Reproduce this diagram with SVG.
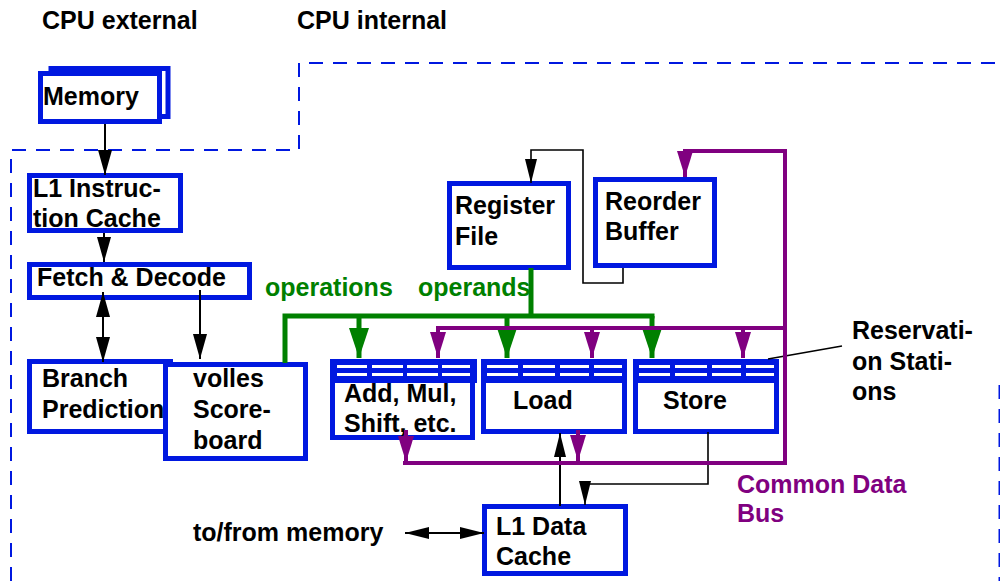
<svg xmlns="http://www.w3.org/2000/svg" width="1000" height="581" viewBox="0 0 1000 581">
<style>
.t{font-family:"Liberation Sans",Arial,sans-serif;font-weight:bold;font-size:25px;fill:#000}
.g{fill:#008000}
.p{fill:#800080}
.box{fill:#fff;stroke:#0018e0;stroke-width:5}
.hdr{fill:#0018e0}
.st{fill:#fff}
.blk{fill:none;stroke:#000;stroke-width:2}
.thin{fill:none;stroke:#000;stroke-width:1.6}
.grn{fill:none;stroke:#008000;stroke-width:5}
.pur{fill:none;stroke:#800080;stroke-width:4}
.dash{fill:none;stroke:#0018e0;stroke-width:2;stroke-dasharray:14 10}
</style>
<defs>
<marker id="ab" markerUnits="userSpaceOnUse" markerWidth="25" markerHeight="14" refX="25" refY="7" orient="auto-start-reverse"><path d="M0,0 L25,7 L0,14 z" fill="#000"/></marker>
<marker id="as" markerUnits="userSpaceOnUse" markerWidth="24" markerHeight="12" refX="24" refY="6" orient="auto-start-reverse"><path d="M0,0 L24,6 L0,12 z" fill="#000"/></marker>
<marker id="ag" markerUnits="userSpaceOnUse" markerWidth="30" markerHeight="20" refX="30" refY="10" orient="auto"><path d="M0,0 L30,10 L0,20 z" fill="#008000"/></marker>
<marker id="ap" markerUnits="userSpaceOnUse" markerWidth="26" markerHeight="16" refX="26" refY="8" orient="auto"><path d="M0,0 L26,8 L0,16 z" fill="#800080"/></marker>
</defs>
<rect width="1000" height="581" fill="#fff"/>

<g id="boundary">
<path class="dash" d="M11,581 V150 H299 V63 H1000"/>
<path class="dash" d="M999.5,385 V581" stroke-width="1.5"/>
</g>

<g id="labels">
<text class="t" x="42" y="29">CPU external</text>
<text class="t" x="297" y="29">CPU internal</text>
<text class="t g" x="265" y="296">operations</text>
<text class="t g" x="418" y="296">operands</text>
<text class="t" x="852" y="339">Reservati-</text>
<text class="t" x="852" y="370">on Stati-</text>
<text class="t" x="852" y="400">ons</text>
<text class="t p" x="737" y="493">Common Data</text>
<text class="t p" x="737" y="522">Bus</text>
<text class="t" x="193" y="541">to/from memory</text>
</g>

<g id="memory">
<rect class="box" x="51" y="68.5" width="117" height="48"/>
<rect class="box" x="40.5" y="73.5" width="119" height="48"/>
<text class="t" x="43" y="105">Memory</text>
</g>

<g id="l1icache">
<rect class="box" x="29.5" y="175.5" width="151" height="55"/>
<text class="t" x="33" y="197">L1 Instruc-</text>
<text class="t" x="33" y="227">tion Cache</text>
</g>

<g id="fetch">
<rect class="box" x="29.5" y="264.5" width="220" height="33"/>
<text class="t" x="37" y="286">Fetch &amp; Decode</text>
</g>

<g id="branch">
<rect class="box" x="29.5" y="361.5" width="141" height="70"/>
<text class="t" x="42" y="387">Branch</text>
<text class="t" x="42" y="418">Prediction</text>
</g>

<g id="scoreboard">
<rect class="box" x="165.5" y="364.5" width="140" height="94"/>
<text class="t" x="193" y="387">volles</text>
<text class="t" x="193" y="418">Score-</text>
<text class="t" x="193" y="449">board</text>
</g>

<g id="regfile">
<rect class="box" x="449.5" y="183.5" width="119" height="84"/>
<text class="t" x="455" y="214">Register</text>
<text class="t" x="455" y="245">File</text>
</g>

<g id="rob">
<rect class="box" x="595.5" y="179.5" width="119" height="86"/>
<text class="t" x="605" y="210">Reorder</text>
<text class="t" x="605" y="240">Buffer</text>
</g>

<g id="rs-add">
<rect class="box" x="332.5" y="361.5" width="140" height="76"/>
<rect class="hdr" x="330" y="359" width="147" height="24"/>
<rect class="st" x="337" y="365" width="30" height="3"/><rect class="st" x="372" y="365" width="31" height="3"/><rect class="st" x="407" y="365" width="31" height="3"/><rect class="st" x="442" y="365" width="28" height="3"/>
<rect class="st" x="337" y="373" width="30" height="3"/><rect class="st" x="372" y="373" width="31" height="3"/><rect class="st" x="407" y="373" width="31" height="3"/><rect class="st" x="442" y="373" width="28" height="3"/>
<text class="t" x="344" y="402">Add, Mul,</text>
<text class="t" x="344" y="432">Shift, etc.</text>
</g>

<g id="rs-load">
<rect class="box" x="483.5" y="361.5" width="141" height="70"/>
<rect class="hdr" x="481" y="359" width="146" height="24"/>
<rect class="st" x="487" y="365" width="31" height="3"/><rect class="st" x="523" y="365" width="32" height="3"/><rect class="st" x="560" y="365" width="29" height="3"/><rect class="st" x="594" y="365" width="28" height="3"/>
<rect class="st" x="487" y="373" width="31" height="3"/><rect class="st" x="523" y="373" width="32" height="3"/><rect class="st" x="560" y="373" width="29" height="3"/><rect class="st" x="594" y="373" width="28" height="3"/>
<text class="t" x="513" y="409">Load</text>
</g>

<g id="rs-store">
<rect class="box" x="635.5" y="361.5" width="141" height="70"/>
<rect class="hdr" x="633" y="359" width="146" height="24"/>
<rect class="st" x="639" y="365" width="31" height="3"/><rect class="st" x="675" y="365" width="32" height="3"/><rect class="st" x="712" y="365" width="29" height="3"/><rect class="st" x="746" y="365" width="28" height="3"/>
<rect class="st" x="639" y="373" width="31" height="3"/><rect class="st" x="675" y="373" width="32" height="3"/><rect class="st" x="712" y="373" width="29" height="3"/><rect class="st" x="746" y="373" width="28" height="3"/>
<text class="t" x="663" y="409">Store</text>
</g>

<g id="l1dcache">
<rect class="box" x="484.5" y="506.5" width="141" height="67"/>
<text class="t" x="496" y="535">L1 Data</text>
<text class="t" x="496" y="565">Cache</text>
</g>

<g id="connectors">
<line class="blk" x1="105" y1="124" x2="105" y2="175" marker-end="url(#ab)"/>
<line class="blk" x1="104" y1="233" x2="104" y2="262" marker-end="url(#ab)"/>
<line class="blk" x1="103" y1="292" x2="103" y2="362" marker-start="url(#ab)" marker-end="url(#ab)"/>
<line class="blk" x1="200" y1="290" x2="200" y2="359" marker-end="url(#ab)"/>
<polyline class="thin" points="623,268 623,283 583,283 583,150 531,150 531,183" marker-end="url(#as)"/>
<line class="blk" x1="560" y1="506" x2="560" y2="433" marker-end="url(#as)"/>
<polyline class="thin" points="708,432 708,484 585,484 585,505" marker-end="url(#as)"/>
<line class="blk" x1="405" y1="533" x2="484" y2="533" marker-start="url(#as)" marker-end="url(#as)"/>
<line class="thin" x1="842" y1="346" x2="768" y2="359"/>
<path class="grn" d="M285,363 V316 H654.5"/>
<line class="grn" x1="531" y1="268" x2="531" y2="316"/>
<line class="grn" x1="359" y1="316" x2="359" y2="358" marker-end="url(#ag)"/>
<line class="grn" x1="507" y1="316" x2="507" y2="358" marker-end="url(#ag)"/>
<line class="grn" x1="652" y1="316" x2="652" y2="358" marker-end="url(#ag)"/>
<path class="pur" d="M403,463 H785 V151 H685 V177" marker-end="url(#ap)"/>
<path class="pur" d="M785,328 H438 V358" marker-end="url(#ap)"/>
<line class="pur" x1="592" y1="328" x2="592" y2="358" marker-end="url(#ap)"/>
<line class="pur" x1="743" y1="328" x2="743" y2="358" marker-end="url(#ap)"/>
<line class="pur" x1="406" y1="430" x2="406" y2="462" marker-end="url(#ap)"/>
<line class="pur" x1="578" y1="430" x2="578" y2="461" marker-end="url(#ap)"/>
</g>
</svg>
